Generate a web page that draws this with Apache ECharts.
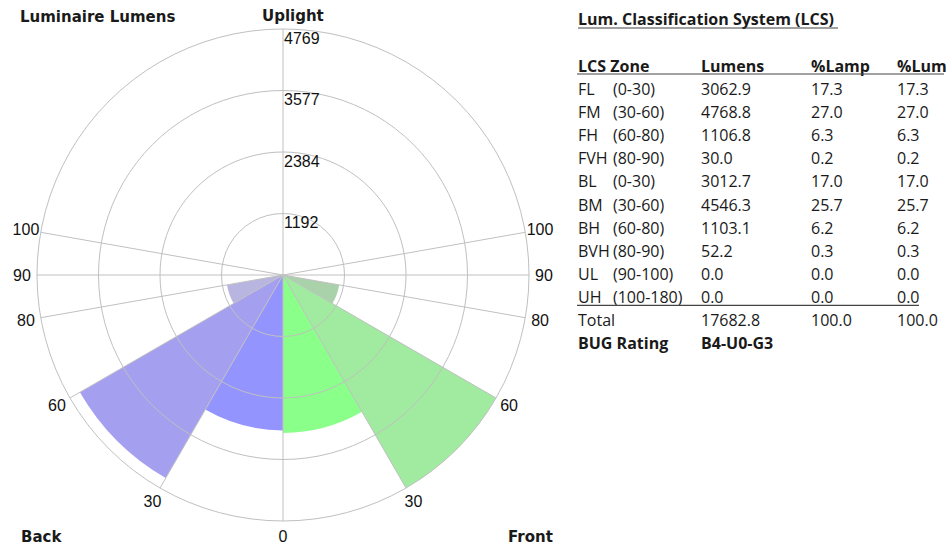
<!DOCTYPE html>
<html><head><meta charset="utf-8">
<script src="https://cdn.jsdelivr.net/npm/echarts@6/dist/echarts.min.js"></script>
<style>html,body{margin:0;padding:0;background:#fff}#c{width:947px;height:548px}</style>
</head><body><div id="c"></div>
<script>
// ---- LCS table data ----
const zoneNames = ['FL', 'FM', 'FH', 'FVH', 'BL', 'BM', 'BH', 'BVH', 'UL', 'UH'];
const zoneRanges = ['(0-30)', '(30-60)', '(60-80)', '(80-90)', '(0-30)', '(30-60)', '(60-80)', '(80-90)', '(90-100)', '(100-180)'];
const zoneLumens = [3062.9, 4768.8, 1106.8, 30.0, 3012.7, 4546.3, 1103.1, 52.2, 0.0, 0.0];
const zonePctLamp = [17.3, 27.0, 6.3, 0.2, 17.0, 25.7, 6.2, 0.3, 0.0, 0.0];
const zonePctLum = [17.3, 27.0, 6.3, 0.2, 17.0, 25.7, 6.2, 0.3, 0.0, 0.0];
const totalLumens = 17682.8;
const totalPctLamp = 100.0;
const totalPctLum = 100.0;
const bugRating = 'B4-U0-G3';

// ---- polar chart data ----
const zoneFromDeg = [0, 30, 60, 80];
const zoneToDeg = [30, 60, 80, 90];
const frontLumens = [3062.9, 4768.8, 1106.8, 30.0];
const backLumens = [3012.7, 4546.3, 1103.1, 52.2];
const spokeDegrees = [0, 30, 60, 80, 90, 100, 180];
const angleLabelDegrees = [0, 30, 60, 80, 90, 100];
const radiusMax = 4768.8;
const radiusTicks = [1192.2, 2384.4, 3576.6, 4768.8];
const radiusTickLabels = ['1192', '2384', '3577', '4769'];

const frontColors = ['#8aff8a', '#a0eba0', '#aad2aa', '#b2cab2'];
const backColors = ['#9494ff', '#a59ff0', '#b8b5e0', '#c0bedc'];
const gridColor = '#c0c0c0';
const axisFont = '16px "Liberation Sans"';
const headFont = 'bold 15px "DejaVu Sans"';
const tblFont = '16px "Open Sans"';
const tblBold = 'bold 16px "Open Sans"';

// angle value on the polar axis: 0 at top, clockwise; front (right) = 180 - nadir, back (left) = 180 + nadir
const frontAngle = d => 180 - d;
const backAngle = d => 180 + d;

const wedgeData = [];
for (let i = 0; i < zoneFromDeg.length; i++) {
  wedgeData.push({ value: [frontLumens[i], frontAngle(zoneToDeg[i]), frontAngle(zoneFromDeg[i])], itemStyle: { color: frontColors[i] } });
  wedgeData.push({ value: [backLumens[i], backAngle(zoneFromDeg[i]), backAngle(zoneToDeg[i])], itemStyle: { color: backColors[i] } });
}
const spokeData = [];
spokeDegrees.forEach(d => {
  spokeData.push([frontAngle(d), d]);
  if (d !== 0 && d !== 180) spokeData.push([backAngle(d), d]);
});
const angleLabelData = [];
angleLabelDegrees.forEach(d => {
  angleLabelData.push([frontAngle(d), d]);
  if (d !== 0) angleLabelData.push([backAngle(d), d]);
});

function centerOf(api) { return api.coord([0, 0]); }

const chart = echarts.init(document.getElementById('c'), null, { renderer: 'svg' });

// table graphics
const g = [];
function txt(x, y, text, font, align) {
  g.push({ type: 'text', x: x, y: y, silent: true, style: { text: text, font: font, fill: '#1a1a1a', align: align || 'left', verticalAlign: 'middle' } });
}
function hline(x1, x2, y, w) {
  g.push({ type: 'line', silent: true, shape: { x1: x1, y1: y, x2: x2, y2: y }, style: { stroke: '#444', lineWidth: w || 1.2 } });
}
txt(20, 17, 'Luminaire Lumens', headFont);
txt(262, 16, 'Uplight', headFont);
txt(21, 537, 'Back', headFont);
txt(508, 537, 'Front', headFont);

const colName = 578, colRange = 613, colLum = 701, colLamp = 811, colPLum = 897;
txt(colName, 19, 'Lum. Classification System (LCS)', tblBold);
hline(578, 838, 28);
const headY = 66;
txt(colName, headY, 'LCS Zone', tblBold);
txt(colLum, headY, 'Lumens', tblBold);
txt(colLamp, headY, '%Lamp', tblBold);
txt(colPLum, headY, '%Lum', tblBold);
hline(577, 944, headY + 8);
const rowY0 = 89, rowStep = 23.1;
for (let i = 0; i < zoneNames.length; i++) {
  const y = rowY0 + i * rowStep;
  txt(colName, y, zoneNames[i], tblFont);
  txt(colRange, y, zoneRanges[i], tblFont);
  txt(colLum, y, zoneLumens[i].toFixed(1), tblFont);
  txt(colLamp, y, zonePctLamp[i].toFixed(1), tblFont);
  txt(colPLum, y, zonePctLum[i].toFixed(1), tblFont);
}
const uhY = rowY0 + (zoneNames.length - 1) * rowStep;
hline(577, 919, uhY + 8.5);
const totY = rowY0 + zoneNames.length * rowStep;
txt(colName, totY, 'Total', tblFont);
txt(colLum, totY, totalLumens.toFixed(1), tblFont);
txt(colLamp, totY, totalPctLamp.toFixed(1), tblFont);
txt(colPLum, totY, totalPctLum.toFixed(1), tblFont);
const bugY = totY + rowStep;
txt(colName, bugY, 'BUG Rating', tblBold);
txt(colLum, bugY, bugRating, tblBold);

chart.setOption({
  animation: false,
  polar: { center: [283, 275], radius: 246 },
  angleAxis: {
    type: 'value', min: 0, max: 360, startAngle: 90, clockwise: true,
    axisLine: { show: false }, axisTick: { show: false }, axisLabel: { show: false }, splitLine: { show: false }
  },
  radiusAxis: {
    type: 'value', min: 0, max: radiusMax, interval: radiusMax / 4,
    axisLine: { show: false }, axisTick: { show: false }, axisLabel: { show: false }, splitLine: { show: false }
  },
  graphic: g,
  series: [
    {
      type: 'custom', coordinateSystem: 'polar', z: 1, silent: true,
      data: wedgeData,
      renderItem: function (params, api) {
        const c = centerOf(api);
        const r = api.value(0), a0 = api.value(1), a1 = api.value(2);
        const pr = api.coord([r, a0]);
        const p0 = api.coord([radiusMax, a0]);
        const p1 = api.coord([radiusMax, a1]);
        const rad = Math.hypot(pr[0] - c[0], pr[1] - c[1]);
        let s = Math.atan2(p0[1] - c[1], p0[0] - c[0]);
        let e = Math.atan2(p1[1] - c[1], p1[0] - c[0]);
        while (e <= s) e += Math.PI * 2;
        return { type: 'sector', shape: { cx: c[0], cy: c[1], r0: 0, r: rad, startAngle: s, endAngle: e, clockwise: true }, style: { fill: api.visual('color') } };
      }
    },
    {
      // concentric rings at the radius ticks, drawn over the wedges
      type: 'custom', coordinateSystem: 'polar', z: 12, silent: true,
      data: radiusTicks.map(v => [v, 0]),
      renderItem: function (params, api) {
        const c = centerOf(api);
        const p = api.coord([api.value(0), 0]);
        return { type: 'circle', shape: { cx: c[0], cy: c[1], r: Math.hypot(p[0] - c[0], p[1] - c[1]) }, style: { fill: 'none', stroke: gridColor, lineWidth: 1 } };
      }
    },
    {
      type: 'custom', coordinateSystem: 'polar', z: 12, silent: true,
      data: spokeData,
      renderItem: function (params, api) {
        const c = centerOf(api);
        const p = api.coord([radiusMax, api.value(0)]);
        return { type: 'line', shape: { x1: c[0], y1: c[1], x2: p[0], y2: p[1] }, style: { stroke: gridColor, lineWidth: 1 } };
      }
    },
    {
      type: 'custom', coordinateSystem: 'polar', z: 12, silent: true,
      data: angleLabelData,
      renderItem: function (params, api) {
        const c = centerOf(api);
        const p = api.coord([radiusMax, api.value(0)]);
        const dx = p[0] - c[0], dy = p[1] - c[1], L = Math.hypot(dx, dy);
        return { type: 'text', style: { text: String(api.value(1)), x: p[0] + dx / L * 15, y: p[1] + dy / L * 15, font: axisFont, fill: '#111', align: 'center', verticalAlign: 'middle' } };
      }
    },
    {
      type: 'custom', coordinateSystem: 'polar', z: 12, silent: true,
      data: radiusTicks.map((v, i) => [v, 0, i]),
      renderItem: function (params, api) {
        const p = api.coord([api.value(0), 0]);
        return { type: 'text', style: { text: radiusTickLabels[api.value(2)], x: p[0] + 1, y: p[1] + 1, font: axisFont, fill: '#111', align: 'left', verticalAlign: 'top' } };
      }
    }
  ]
});
</script></body></html>
